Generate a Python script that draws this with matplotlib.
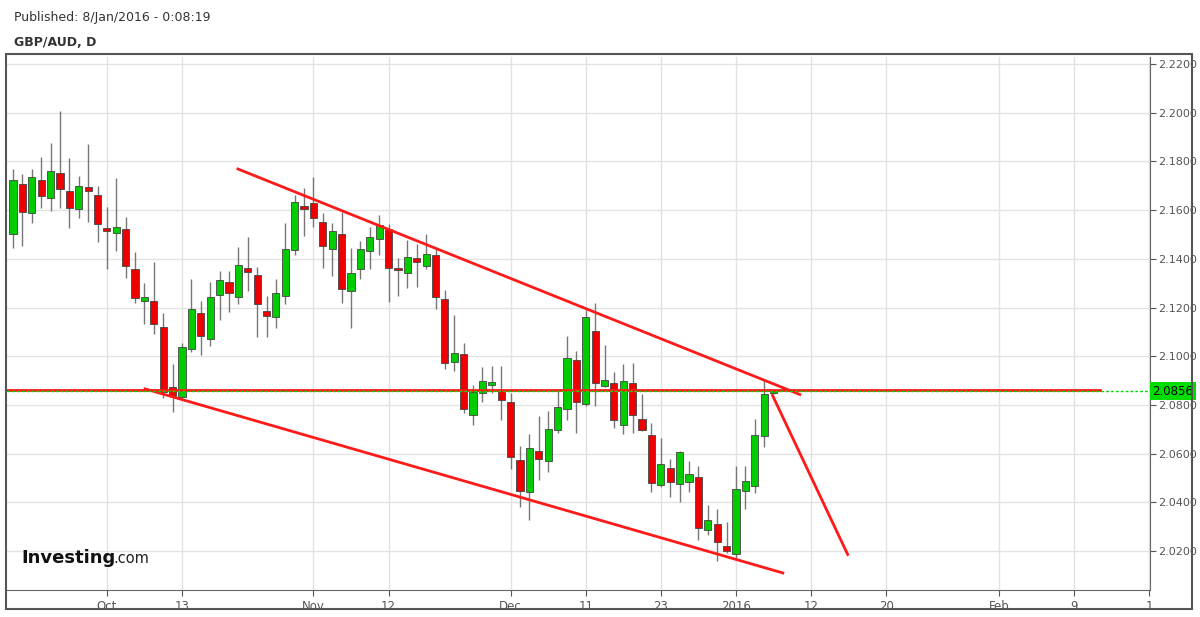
import numpy as np
import matplotlib.pyplot as plt
from matplotlib.patches import Rectangle

# daily GBP/AUD candles, 17 Sep 2015 .. 8 Jan 2016 (trading days)
opens = [2.1502, 2.1707, 2.1588, 2.1724, 2.1650, 2.1752, 2.1679, 2.1605, 2.1695, 2.1662,
         2.1527, 2.1506, 2.1522, 2.1358, 2.1227, 2.1227, 2.1120, 2.0874, 2.0833, 2.1030,
         2.1178, 2.1071, 2.1251, 2.1305, 2.1243, 2.1362, 2.1334, 2.1186, 2.1161, 2.1247,
         2.1436, 2.1617, 2.1629, 2.1551, 2.1440, 2.1502, 2.1268, 2.1358, 2.1432, 2.1481,
         2.1522, 2.1362, 2.1342, 2.1403, 2.1371, 2.1416, 2.1235, 2.0976, 2.1009, 2.0759,
         2.0849, 2.0882, 2.0857, 2.0812, 2.0574, 2.0442, 2.0611, 2.0570, 2.0697, 2.0783,
         2.0984, 2.0804, 2.1104, 2.0878, 2.0890, 2.0718, 2.0890, 2.0742, 2.0676, 2.0471,
         2.0541, 2.0475, 2.0483, 2.0504, 2.0286, 2.0311, 2.0221, 2.0188, 2.0446, 2.0467,
         2.0672, 2.0849]
closes = [2.1724, 2.1592, 2.1736, 2.1658, 2.1761, 2.1687, 2.1609, 2.1699, 2.1679, 2.1543,
          2.1514, 2.1531, 2.1371, 2.1239, 2.1243, 2.1132, 2.0853, 2.0837, 2.1038, 2.1194,
          2.1083, 2.1243, 2.1313, 2.1260, 2.1375, 2.1346, 2.1214, 2.1165, 2.1260, 2.1440,
          2.1633, 2.1605, 2.1568, 2.1453, 2.1514, 2.1276, 2.1342, 2.1440, 2.1490, 2.1539,
          2.1362, 2.1354, 2.1407, 2.1387, 2.1420, 2.1243, 2.0972, 2.1013, 2.0783, 2.0853,
          2.0898, 2.0894, 2.0820, 2.0586, 2.0446, 2.0623, 2.0578, 2.0701, 2.0791, 2.0993,
          2.0812, 2.1161, 2.0890, 2.0902, 2.0738, 2.0898, 2.0759, 2.0697, 2.0479, 2.0557,
          2.0483, 2.0607, 2.0516, 2.0295, 2.0327, 2.0237, 2.0200, 2.0455, 2.0488, 2.0676,
          2.0845, 2.0857]
highs = [2.1769, 2.1748, 2.1769, 2.1818, 2.1876, 2.2007, 2.1814, 2.1740, 2.1872, 2.1699,
         2.1613, 2.1732, 2.1572, 2.1428, 2.1301, 2.1387, 2.1177, 2.0968, 2.1054, 2.1317,
         2.1227, 2.1305, 2.1350, 2.1350, 2.1449, 2.1490, 2.1366, 2.1247, 2.1317, 2.1547,
         2.1662, 2.1691, 2.1736, 2.1588, 2.1547, 2.1592, 2.1444, 2.1473, 2.1531, 2.1580,
         2.1543, 2.1403, 2.1477, 2.1461, 2.1502, 2.1440, 2.1272, 2.1169, 2.1054, 2.0882,
         2.0956, 2.0960, 2.0960, 2.0849, 2.0631, 2.0681, 2.0754, 2.0775, 2.0865, 2.1083,
         2.1021, 2.1190, 2.1219, 2.1046, 2.0935, 2.0968, 2.0972, 2.0845, 2.0726, 2.0664,
         2.0578, 2.0611, 2.0570, 2.0549, 2.0389, 2.0373, 2.0319, 2.0549, 2.0549, 2.0742,
         2.0902, 2.0862]
lows = [2.1444, 2.1453, 2.1547, 2.1609, 2.1596, 2.1609, 2.1527, 2.1568, 2.1551, 2.1469,
        2.1358, 2.1432, 2.1321, 2.1219, 2.1132, 2.1091, 2.0828, 2.0771, 2.0828, 2.1017,
        2.1005, 2.1042, 2.1149, 2.1182, 2.1214, 2.1268, 2.1079, 2.1079, 2.1116, 2.1214,
        2.1416, 2.1494, 2.1531, 2.1362, 2.1329, 2.1219, 2.1116, 2.1317, 2.1358, 2.1416,
        2.1223, 2.1247, 2.1280, 2.1284, 2.1358, 2.1194, 2.0948, 2.0939, 2.0767, 2.0718,
        2.0812, 2.0849, 2.0738, 2.0537, 2.0381, 2.0327, 2.0492, 2.0524, 2.0685, 2.0738,
        2.0685, 2.0796, 2.0796, 2.0874, 2.0705, 2.0681, 2.0685, 2.0693, 2.0442, 2.0463,
        2.0422, 2.0401, 2.0442, 2.0245, 2.0266, 2.0159, 2.0192, 2.0163, 2.0373, 2.0438,
        2.0627, 2.0845]

tick_pos = [10, 18, 32, 40, 53, 61, 69, 77, 85, 93, 105, 113, 121]
tick_labels = ['Oct', '13', 'Nov', '12', 'Dec', '11', '23', '2016', '12', '20', 'Feb', '9', '1']
y_ticks = [2.02, 2.04, 2.06, 2.08, 2.10, 2.12, 2.14, 2.16, 2.18, 2.20, 2.22]
last_price = 2.0856

# drawn trend lines (x in bar index, y in price)
upper_line = ([23.96, 83.8], [2.1769, 2.0843])
lower_line = ([14.06, 82.0], [2.0866, 2.0110])
drop_line = ([80.9, 88.9], [2.0839, 2.0186])
level = 2.0862

fig = plt.figure(figsize=(12, 6.17), dpi=100)
fig.patches.append(Rectangle((6/1200, 8/617), 1186/1200, 555/617, transform=fig.transFigure,
                             fill=False, edgecolor='#555555', lw=1.5))
ax = fig.add_axes([7/1200, 27/617, 1143/1200, 533/617])

for i, (o, c, h, l) in enumerate(zip(opens, closes, highs, lows)):
    col = '#00cc00' if c >= o else '#ee0000'
    ax.vlines(i, l, h, color='#777777', lw=1, zorder=2)
    ax.add_patch(Rectangle((i - 0.38, min(o, c)), 0.76, max(abs(c - o), 0.0002),
                           facecolor=col, edgecolor='#444444', lw=0.6, zorder=3))

ax.plot(*upper_line, color='#ff1a1a', lw=2, zorder=4)
ax.plot(*lower_line, color='#ff1a1a', lw=2, zorder=4)
ax.plot(*drop_line, color='#ff1a1a', lw=2, zorder=4)
ax.plot([-1, 115.8], [level, level], color='#ff1a1a', lw=2, zorder=4)
ax.axhline(last_price, color='#00dd00', lw=1, ls=(0, (2, 1.5)), zorder=5)

ax.set_xlim(-0.64, 121.1)
ax.set_ylim(2.0040, 2.2229)
ax.set_xticks(tick_pos)
ax.set_xticklabels(tick_labels)
ax.set_yticks(y_ticks)
ax.set_yticklabels(['%.4f' % v for v in y_ticks])
ax.yaxis.tick_right()
ax.tick_params(axis='both', labelsize=8.5, colors='#555555', length=4, width=0.8)
ax.tick_params(axis='y', direction='out', labelsize=8, pad=2)
ax.grid(True, color='#e3e3e3', lw=1)
ax.set_axisbelow(True)
for s in ['top', 'left']:
    ax.spines[s].set_visible(False)
for s in ['right', 'bottom']:
    ax.spines[s].set_color('#666666')
ax.text(1.002, last_price, '%.4f' % last_price, transform=ax.get_yaxis_transform(),
        va='center', ha='left', fontsize=8.5, color='black',
        bbox=dict(boxstyle='square,pad=0.2', facecolor='#00dd00', edgecolor='none'))

fig.text(14/1200, 1 - 18/617, 'Published: 8/Jan/2016 - 0:08:19', fontsize=9, color='#333333', va='center')
fig.text(14/1200, 1 - 42/617, 'GBP/AUD, D', fontsize=9, fontweight='bold', color='#333333', va='center')
ax.text(0.013, 0.05, 'Investing', transform=ax.transAxes, fontsize=13, fontweight='bold', color='#111111')
ax.text(0.093, 0.05, '.com', transform=ax.transAxes, fontsize=10.5, color='#222222')

fig.savefig('out.png', dpi=100)
